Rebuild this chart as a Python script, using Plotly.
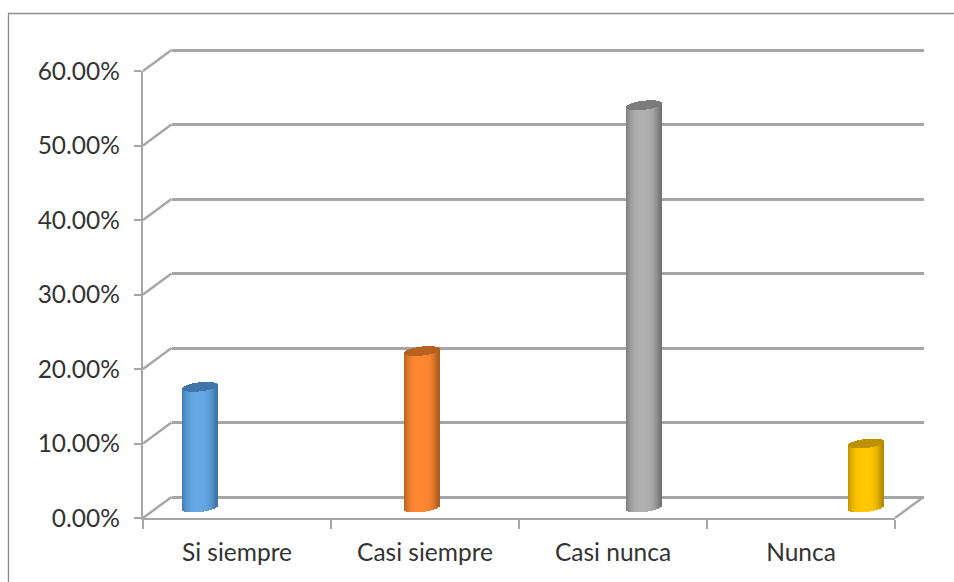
import numpy as np
import plotly.graph_objects as go

# ---- data ----
categories = ["Si siempre", "Casi siempre", "Casi nunca", "Nunca"]
values = [16.2, 21.0, 54.0, 8.6]
y_ticks = [0, 10, 20, 30, 40, 50, 60]
y_labels = ["0.00%", "10.00%", "20.00%", "30.00%", "40.00%", "50.00%", "60.00%"]

# ---- style ----
light = ["#64A8E4", "#FF8732", "#B0B0B0", "#FFC800"]
dark = ["#3F74A6", "#AE5C20", "#747474", "#B58C00"]
cap = ["#3F76A8", "#B8621F", "#7C7C7C", "#BC9200"]
GRID = "#A6A6A6"
W, H = 954, 582
FX0, FX1, FY0, FY1 = 143, 895, 518, 71   # front plane (px)
DX, DY = 28.5, 21                        # depth offset (px)
BAR_C0, BAR_STEP, BAR_W = 200.2, 221.8, 35
BASE_PX = 507.5
PX_PER_UNIT = (FY0 - FY1) / 60


def px(x):
    return x / W


def py(y):
    return 1 - y / H


def mix(a, b, f):
    ca = [int(a[i:i + 2], 16) for i in (1, 3, 5)]
    cb = [int(b[i:i + 2], 16) for i in (1, 3, 5)]
    return "#%02x%02x%02x" % tuple(round(p + (q - p) * f) for p, q in zip(ca, cb))


# cylinders are drawn as narrow bars on a hidden axis pair
n_strips = BAR_W
t = (np.arange(n_strips) + 0.5) / n_strips * 2 - 1
ell = 4.5 / PX_PER_UNIT
tilt = 2.0 / PX_PER_UNIT
s = np.sqrt(1 - t ** 2)
body_x, body_base, body_h, body_c = [], [], [], []
cap_base, cap_h, cap_c = [], [], []
for i, v in enumerate(values):
    for tk, sk in zip(t, s):
        body_x.append(i + tk * BAR_W / 2 / BAR_STEP)
        lo = tilt * tk - ell * sk
        hi = v + tilt * tk - ell * sk
        body_base.append(lo)
        body_h.append(hi - lo)
        body_c.append(mix(light[i], dark[i], min(1, abs(tk + 0.05) ** 2.8)))
        cap_base.append(hi)
        cap_h.append(2 * ell * sk)
        cap_c.append(mix(cap[i], dark[i], abs(tk) ** 3 * 0.4))

strip_w = 1 / BAR_STEP
fig = go.Figure()
# category / value axes on the front plane
fig.add_trace(go.Scatter(x=categories, y=values, mode="markers", marker=dict(opacity=0),
                         xaxis="x", yaxis="y", hoverinfo="skip", showlegend=False))
# back wall gridlines
fig.add_trace(go.Scatter(x=[0, 1], y=[0, 60], mode="markers", marker=dict(opacity=0),
                         xaxis="x2", yaxis="y2", hoverinfo="skip", showlegend=False))
fig.add_trace(go.Bar(x=body_x, base=body_base, y=body_h, width=strip_w,
                     marker=dict(color=body_c, line=dict(width=0)),
                     xaxis="x3", yaxis="y3", showlegend=False))
fig.add_trace(go.Bar(x=body_x, base=cap_base, y=cap_h, width=strip_w,
                     marker=dict(color=cap_c, line=dict(width=0)),
                     xaxis="x3", yaxis="y3", showlegend=False))

FONT = dict(family="Lato", size=24.5, color="#333333")
shapes = [dict(type="rect", xref="paper", yref="paper", x0=px(8.5), x1=px(W + 5), y0=py(13.5), y1=py(H + 5),
               line=dict(color="#8C8C8C", width=1.3), layer="below")]
for v in y_ticks:
    yf = FY0 - v * PX_PER_UNIT
    shapes.append(dict(type="line", xref="paper", yref="paper", x0=px(FX0), x1=px(FX0 + DX),
                       y0=py(yf), y1=py(yf - DY), line=dict(color=GRID, width=2.4), layer="below"))
shapes.append(dict(type="line", xref="paper", yref="paper", x0=px(FX1), x1=px(FX1 + DX),
                   y0=py(FY0), y1=py(FY0 - DY), line=dict(color=GRID, width=2.4), layer="below"))

PAD = 3  # value units of spare room so the 0 and 60 gridlines are drawn
fig.update_layout(
    width=W, height=H, autosize=False, margin=dict(l=0, r=0, t=0, b=0, autoexpand=False),
    paper_bgcolor="white", plot_bgcolor="rgba(0,0,0,0)", barmode="overlay", bargap=0,
    font=FONT, shapes=shapes, showlegend=False,
    xaxis=dict(domain=[px(FX0), px(FX1)], type="category", categoryorder="array", categoryarray=categories,
               range=[-0.5, 3.5], anchor="y", showgrid=False, zeroline=False, showline=True,
               linecolor=GRID, linewidth=2.4, ticks="outside", ticklen=9, tickwidth=1.5, tickcolor=GRID,
               tickson="boundaries", tickfont=FONT, ticklabelstandoff=11, automargin=False),
    yaxis=dict(domain=[py(FY0), py(FY1)], range=[0, 60], anchor="x", tickvals=y_ticks, ticktext=y_labels,
               showgrid=False, zeroline=False, showline=True, linecolor=GRID, linewidth=2.4,
               ticks="outside", ticklen=7, tickwidth=1.5, tickcolor=GRID, tickfont=FONT,
               ticklabelstandoff=9, automargin=False),
    xaxis2=dict(domain=[px(FX0 + DX), px(FX1 + DX)], range=[0, 1], anchor="y2", visible=False, showgrid=False),
    yaxis2=dict(domain=[py(FY0 - DY + PAD * PX_PER_UNIT), py(FY1 - DY - PAD * PX_PER_UNIT)],
                range=[-PAD, 60 + PAD], anchor="x2", tickvals=y_ticks,
                showticklabels=False, ticks="", showgrid=True, gridcolor=GRID, gridwidth=2.6,
                zeroline=False, showline=False, automargin=False),
    xaxis3=dict(domain=[px(FX0), px(FX1 + DX)],
                range=[(FX0 - BAR_C0) / BAR_STEP, (FX1 + DX - BAR_C0) / BAR_STEP],
                anchor="y3", visible=False),
    yaxis3=dict(domain=[py(BASE_PX + 30), py(30)],
                range=[-30 / PX_PER_UNIT, (BASE_PX - 30) / PX_PER_UNIT],
                anchor="x3", visible=False),
)

fig.write_html("out.html", config=dict(displayModeBar=False), post_script="document.body.style.margin='0';")
